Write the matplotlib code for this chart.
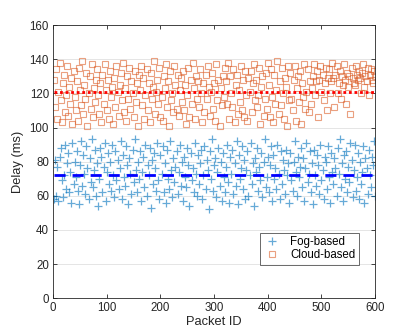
import numpy as np
import matplotlib
matplotlib.use("Agg")
import matplotlib.pyplot as plt

# ---------------- data ----------------
fog_delay = [
58, 81, 60, 77, 57, 83, 88, 69, 59, 72, 90, 64, 79, 85, 62, 74, 56, 91, 67, 80,
71, 86, 63, 55, 78, 92, 66, 84, 73, 61, 89, 76, 58, 82, 68, 93, 65, 75, 87, 60,
79, 54, 70, 88, 83, 62, 77, 91, 57, 74, 85, 67, 80, 63, 90, 72, 59, 86, 69, 81,
64, 76, 92, 58, 84, 71, 66, 89, 78, 55, 82, 73, 61, 87, 68, 93, 75, 62, 80, 70,
86, 57, 74, 83, 65, 90, 60, 78, 72, 88, 53, 81, 67, 85, 76, 63, 91, 69, 58, 84,
73, 89, 62, 79, 56, 87, 70, 64, 92, 75, 59, 82, 68, 77, 86, 61, 74, 90, 66, 80,
57, 83, 71, 65, 88, 78, 54, 85, 69, 76, 62, 91, 73, 60, 84, 67, 79, 87, 58, 72,
89, 64, 81, 75, 52, 86, 70, 93, 63, 78, 82, 59, 74, 88, 66, 80, 57, 85, 71, 62,
77, 90, 68, 56, 83, 73, 87, 61, 79, 66, 92, 55, 84, 70, 76, 89, 64, 81, 58, 75,
86, 60, 72, 91, 67, 79, 54, 82, 74, 88, 63, 77, 69, 85, 59, 80, 93, 65, 71, 83,
62, 78, 89, 57, 84, 70, 76, 64, 90, 73, 58, 86, 67, 81, 75, 61, 87, 72, 79, 56,
85, 69, 63, 80, 92, 74, 60, 83, 71, 77, 88, 65, 82, 57, 76, 91, 68, 73, 86, 62,
79, 55, 87, 72, 66, 84, 78, 61, 90, 69, 75, 58, 83, 80, 64, 89, 71, 56, 85, 74,
67, 82, 76, 60, 88, 73, 93, 65, 79, 57, 84, 70, 86, 62, 77, 68, 91, 81, 59, 75,
90, 63, 71, 85, 58, 80, 67, 74, 89, 56, 82, 76, 61, 87, 72, 65, 83, 78, 92, 60,
]

cloud_delay = [
128, 112, 134, 105, 121, 138, 116, 103, 126, 131, 109, 119, 136, 107, 124, 114, 129, 102, 133, 118,
110, 127, 104, 135, 122, 113, 139, 108, 125, 117, 132, 101, 120, 130, 111, 137, 106, 123, 115, 128,
134, 119, 108, 126, 103, 131, 114, 137, 122, 110, 128, 105, 133, 118, 124, 102, 129, 112, 136, 121,
107, 125, 132, 116, 138, 109, 123, 104, 130, 117, 135, 111, 127, 120, 106, 133, 115, 126, 101, 131,
122, 136, 113, 129, 105, 119, 134, 110, 126, 103, 132, 117, 124, 139, 108, 121, 128, 114, 135, 106,
118, 104, 130, 123, 137, 112, 127, 101, 133, 116, 120, 109, 136, 125, 111, 131, 107, 122, 129, 115,
133, 110, 125, 102, 119, 135, 106, 128, 114, 138, 123, 105, 130, 117, 127, 112, 134, 120, 103, 126,
109, 131, 117, 136, 124, 107, 121, 132, 111, 126, 104, 137, 116, 128, 101, 123, 113, 130, 118, 135,
127, 114, 138, 105, 130, 120, 112, 134, 103, 125, 131, 108, 122, 115, 136, 110, 128, 106, 133, 119,
104, 129, 121, 133, 109, 126, 137, 116, 128, 112, 119, 135, 102, 124, 130, 107, 117, 132, 111, 138,
125, 106, 134, 118, 103, 131, 114, 122, 139, 108, 127, 113, 135, 120, 105, 129, 124, 101, 136, 116,
132, 117, 110, 128, 136, 104, 123, 130, 115, 133, 102, 126, 118, 137, 111, 121, 134, 109, 127, 114,
123, 130, 137, 119, 127, 133, 106, 128, 136, 121, 131, 116, 126, 135, 110, 129, 134, 120, 127, 138,
129, 112, 131, 136, 120, 126, 133, 117, 130, 125, 137, 128, 114, 132, 124, 130, 108, 135, 129, 126,
125, 136, 131, 128, 133, 129, 120, 132, 137, 124, 130, 127, 135, 119, 131, 134, 128, 126, 133, 130,
]

fog_mean = 72.3
cloud_mean = 120.6
series_labels = ["Fog-based", "Cloud-based"]
x_ticks = [0, 100, 200, 300, 400, 500, 600]
y_ticks = [0, 20, 40, 60, 80, 100, 120, 140, 160]

# ---------------- plot ----------------
plt.rcParams['font.family'] = ['Liberation Sans', 'DejaVu Sans']

fig = plt.figure(figsize=(4.15, 3.35), dpi=100)
ax = fig.add_axes([0.128, 0.110, 0.776, 0.815])

blue = (0.0, 0.447, 0.741)
orange = (0.850, 0.325, 0.098)

packet_id = np.arange(2, 2 * len(fog_delay) + 1, 2)
h1, = ax.plot(packet_id, fog_delay, linestyle='none', marker='+', markersize=6,
              markeredgewidth=0.9, color=blue, alpha=0.6, label=series_labels[0])
h2, = ax.plot(packet_id, cloud_delay, linestyle='none', marker='s', markersize=5,
              markeredgewidth=0.8, markerfacecolor='none', markeredgecolor=orange,
              alpha=0.55, label=series_labels[1])

ax.plot([1, 600], [fog_mean, fog_mean], color=(0, 0, 1),
        linestyle=(0, (4, 2.5)), linewidth=2)
ax.plot([1, 600], [cloud_mean, cloud_mean], color=(1, 0, 0),
        linestyle=(0, (1, 1)), linewidth=2)

ax.set_xlim(0, 600)
ax.set_ylim(0, 160)
ax.set_xticks(x_ticks)
ax.set_yticks(y_ticks)

dark = (0.15, 0.15, 0.15)
ax.tick_params(direction='in', length=3, width=0.6, colors=dark, labelsize=8.3,
               top=True, right=True, pad=3)
for s in ax.spines.values():
    s.set_color(dark)
    s.set_linewidth(0.6)
ax.yaxis.grid(True, color=(0.88, 0.88, 0.88), linewidth=0.6)
ax.set_axisbelow(True)

ax.set_xlabel("Packet ID", fontsize=9.3, color=dark, labelpad=1)
ax.set_ylabel("Delay (ms)", fontsize=9.3, color=dark, labelpad=4)

leg = ax.legend(handles=[h1, h2], loc='upper right', bbox_to_anchor=(0.95, 0.24),
                fontsize=8.3, frameon=True, fancybox=False, borderpad=0.3,
                handlelength=1.5, handletextpad=0.8, labelspacing=0.1,
                borderaxespad=0)
leg.get_frame().set_edgecolor(dark)
leg.get_frame().set_linewidth(0.6)
for t in leg.get_texts():
    t.set_color((0, 0, 0))

fig.savefig("out.png", dpi=100)
